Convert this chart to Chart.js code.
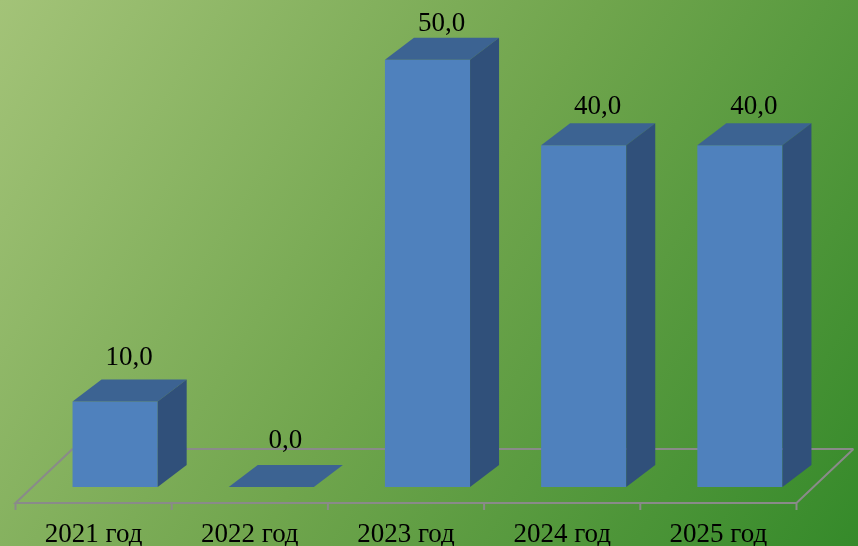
<!DOCTYPE html>
<html lang="ru">
<head>
    <meta charset="UTF-8">
    <title>2021-2025</title>
    <script src="https://cdn.jsdelivr.net/npm/chart.js"></script>
    <style>
        html, body { margin: 0; padding: 0; overflow: hidden; }
        .chart-container { width: 858px; height: 546px; position: relative; }
    </style>
</head>
<body>
    <div class="chart-container">
        <canvas id="barChart"></canvas>
    </div>

    <script>
        // Данные графика
        const years = ["2021 год", "2022 год", "2023 год", "2024 год", "2025 год"];
        const values = [10, 0, 50, 40, 40];

        // Глубина 3D и смещения
        const depthX = 29, depthY = 22;
        const floorShift = 21.5;     // сдвиг пола относительно столбцов
        const floorDx = 57, floorDy = 54;
        const serif = '"Liberation Serif", "Times New Roman", serif';

        function fmt(v) {
            return v.toFixed(1).replace('.', ',');
        }

        const bar3d = {
            id: 'bar3d',
            beforeDraw(chart) {
                const ctx = chart.ctx;
                const g = ctx.createLinearGradient(0, 0, chart.width, chart.height);
                g.addColorStop(0, '#a3c378');
                g.addColorStop(0.5, '#70a54d');
                g.addColorStop(1, '#358a2a');
                ctx.save();
                ctx.fillStyle = g;
                ctx.fillRect(0, 0, chart.width, chart.height);
                ctx.restore();
            },
            beforeDatasetsDraw(chart) {
                // пол и засечки оси
                const ctx = chart.ctx;
                const x = chart.scales.x, y = chart.scales.y;
                const left = x.left - floorShift, right = x.right - floorShift;
                const front = y.bottom + 16;
                ctx.save();
                ctx.strokeStyle = '#8a8a8a';
                ctx.lineWidth = 2;
                ctx.beginPath();
                ctx.moveTo(left + floorDx, front - floorDy);
                ctx.lineTo(left, front);
                ctx.lineTo(right, front);
                ctx.lineTo(right + floorDx, front - floorDy);
                ctx.moveTo(left + floorDx, front - floorDy);
                ctx.lineTo(right + floorDx, front - floorDy);
                const step = (right - left) / years.length;
                for (let i = 0; i <= years.length; i++) {
                    ctx.moveTo(left + i * step, front);
                    ctx.lineTo(left + i * step, front + 7);
                }
                ctx.stroke();

                // подписи категорий
                ctx.fillStyle = '#000';
                ctx.font = '27px ' + serif;
                ctx.textAlign = 'center';
                ctx.textBaseline = 'alphabetic';
                years.forEach((label, i) => {
                    ctx.fillText(label, x.getPixelForValue(i) - floorShift, 542);
                });
                ctx.restore();
            },
            afterDatasetsDraw(chart) {
                const ctx = chart.ctx;
                const meta = chart.getDatasetMeta(0);
                ctx.save();
                meta.data.forEach((bar, i) => {
                    const l = bar.x - bar.width / 2, r = bar.x + bar.width / 2;
                    const top = bar.y, base = bar.base;
                    // верхняя грань
                    ctx.fillStyle = '#3c6392';
                    ctx.beginPath();
                    ctx.moveTo(l, top);
                    ctx.lineTo(r, top);
                    ctx.lineTo(r + depthX, top - depthY);
                    ctx.lineTo(l + depthX, top - depthY);
                    ctx.closePath();
                    ctx.fill();
                    // боковая грань
                    if (base - top > 0.5) {
                        ctx.fillStyle = '#30507a';
                        ctx.beginPath();
                        ctx.moveTo(r, top);
                        ctx.lineTo(r + depthX, top - depthY);
                        ctx.lineTo(r + depthX, base - depthY);
                        ctx.lineTo(r, base);
                        ctx.closePath();
                        ctx.fill();
                    }
                    // подпись значения
                    const gap = 17 - values[i] * 0.2;
                    ctx.fillStyle = '#000';
                    ctx.font = '27px ' + serif;
                    ctx.textAlign = 'center';
                    ctx.textBaseline = 'alphabetic';
                    ctx.fillText(fmt(values[i]), bar.x + 14, top - depthY - gap);
                });
                ctx.restore();
            }
        };

        const ctx = document.getElementById('barChart').getContext('2d');
        new Chart(ctx, {
            type: 'bar',
            data: {
                labels: years,
                datasets: [{
                    data: values,
                    backgroundColor: '#4f81bd',
                    borderWidth: 0,
                    barPercentage: 0.545,
                    categoryPercentage: 1
                }]
            },
            options: {
                responsive: true,
                maintainAspectRatio: false,
                animation: false,
                layout: { padding: { left: 37, right: 40, top: 0, bottom: 59 } },
                plugins: {
                    legend: { display: false },
                    tooltip: { enabled: false }
                },
                scales: {
                    x: { display: false },
                    y: { display: false, min: 0, max: 57 }
                }
            },
            plugins: [bar3d]
        });
    </script>
</body>
</html>
